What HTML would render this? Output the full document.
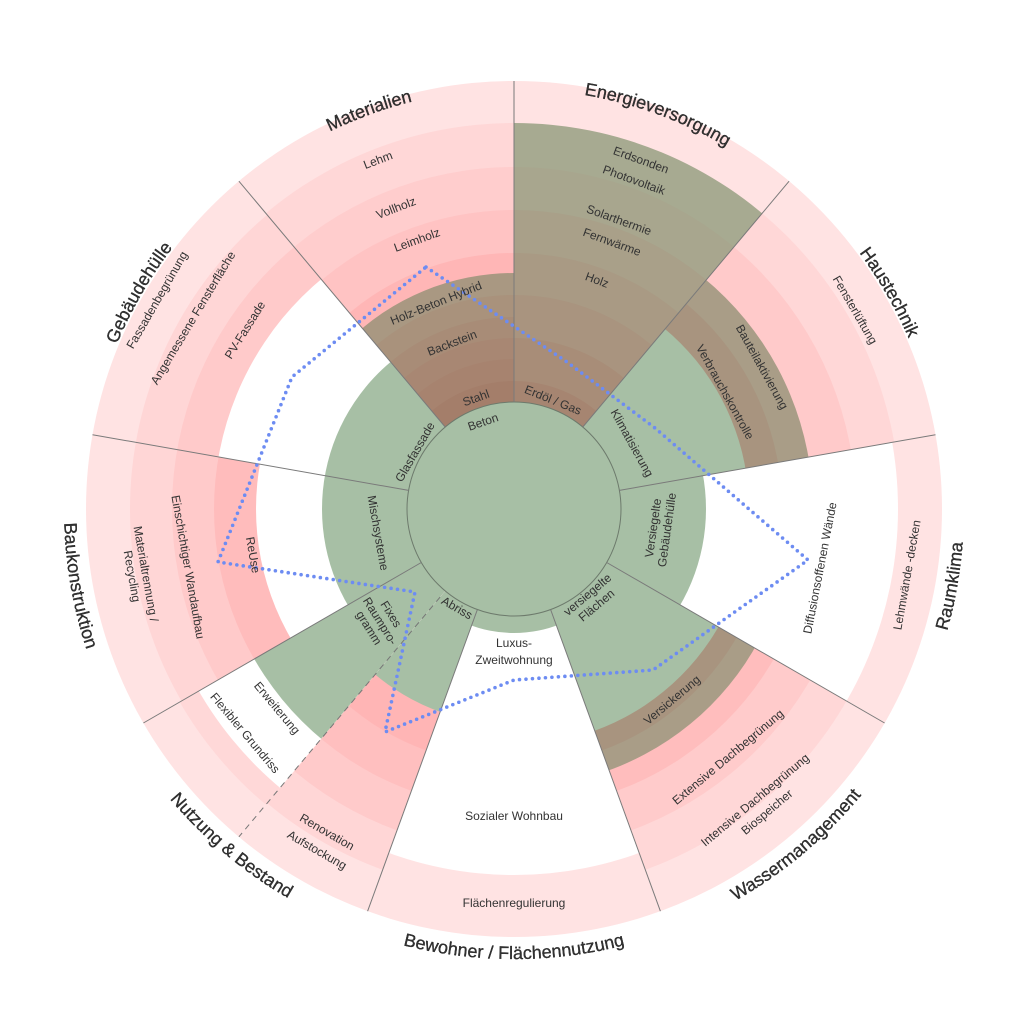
<!DOCTYPE html>
<html><head><meta charset="utf-8"><style>
html,body{margin:0;padding:0;background:#fff}
svg{display:block}
text{font-family:"Liberation Sans",sans-serif;fill:#333}
.l{font-size:12px}
.c{font-size:18px;fill:#000;stroke:#000;stroke-width:0.25}
</style></head><body>
<svg width="1024" height="1024" viewBox="0 0 1024 1024" xmlns="http://www.w3.org/2000/svg">
<defs>
<clipPath id="sMat"><polygon points="514,509 64,-27.2 514,-191"/></clipPath>
<clipPath id="sEne"><polygon points="514,509 514,-191 964,-27.2"/></clipPath>
<clipPath id="sHau"><polygon points="514,509 964,-27.2 1203.4,387.5"/></clipPath>
<clipPath id="sRau"><polygon points="514,509 1203.4,387.5 1120.2,859"/></clipPath>
<clipPath id="sWas"><polygon points="514,509 1120.2,859 753.4,1166.8"/></clipPath>
<clipPath id="sBew"><polygon points="514,509 753.4,1166.8 274.6,1166.8"/></clipPath>
<clipPath id="sNu1"><polygon points="514,509 274.6,1166.8 64,1045.2"/></clipPath>
<clipPath id="sNu2"><polygon points="514,509 64,1045.2 -92.2,859"/></clipPath>
<clipPath id="sBau"><polygon points="514,509 -92.2,859 -175.4,387.5"/></clipPath>
<clipPath id="sGeb"><polygon points="514,509 -175.4,387.5 64,-27.2"/></clipPath>
<path id="cMat" d="M169.9,268.1 A420,420 0 0 1 622.7,103.4"/>
<path id="cEne" d="M405.3,103.4 A420,420 0 0 1 858.1,268.1"/>
<path id="cHau" d="M695.8,119.4 A430,430 0 0 1 942.3,546.5"/>
<path id="cGeb" d="M85.7,546.5 A430,430 0 0 1 332.2,119.4"/>
<path id="cRau" d="M832.2,827.2 A450,450 0 0 0 921.8,318.8"/>
<path id="cWas" d="M553.2,957.3 A450,450 0 0 0 948.7,625.4"/>
<path id="cBew" d="M255.9,877.7 A450,450 0 0 0 772.1,877.7"/>
<path id="cNut" d="M79.3,625.4 A450,450 0 0 0 474.8,957.3"/>
<path id="cBau" d="M106.2,318.8 A450,450 0 0 0 195.8,827.2"/>
</defs>

<g clip-path="url(#sMat)">
<circle cx="514" cy="509" r="428" fill="#ffe3e3"/>
<circle cx="514" cy="509" r="386" fill="#ffd7d7"/>
<circle cx="514" cy="509" r="342" fill="#ffcdcd"/>
<circle cx="514" cy="509" r="299" fill="#ffc3c3"/>
<circle cx="514" cy="509" r="256" fill="#ffb6b6"/>
<circle cx="514" cy="509" r="236" fill="#a99882"/>
<circle cx="514" cy="509" r="214" fill="#a9927c"/>
<circle cx="514" cy="509" r="192" fill="#a88c77"/>
<circle cx="514" cy="509" r="171" fill="#a88773"/>
<circle cx="514" cy="509" r="150" fill="#a7836f"/>
<circle cx="514" cy="509" r="128" fill="#a47e6a"/>
</g>
<g clip-path="url(#sEne)">
<circle cx="514" cy="509" r="428" fill="#ffe3e3"/>
<circle cx="514" cy="509" r="386" fill="#a7aa91"/>
<circle cx="514" cy="509" r="342" fill="#a8a68e"/>
<circle cx="514" cy="509" r="299" fill="#a9a089"/>
<circle cx="514" cy="509" r="256" fill="#a99a84"/>
<circle cx="514" cy="509" r="214" fill="#a9947f"/>
<circle cx="514" cy="509" r="171" fill="#a88d78"/>
<circle cx="514" cy="509" r="128" fill="#a68571"/>
</g>
<g clip-path="url(#sHau)">
<circle cx="514" cy="509" r="428" fill="#ffe3e3"/>
<circle cx="514" cy="509" r="386" fill="#ffd7d7"/>
<circle cx="514" cy="509" r="342" fill="#ffcaca"/>
<circle cx="514" cy="509" r="299" fill="#a99d87"/>
<circle cx="514" cy="509" r="268" fill="#a8947f"/>
<circle cx="514" cy="509" r="235" fill="#a7bfa5"/>
</g>
<g clip-path="url(#sRau)">
<circle cx="514" cy="509" r="428" fill="#ffe3e3"/>
<circle cx="514" cy="509" r="384" fill="#ffffff"/>
<circle cx="514" cy="509" r="192" fill="#a7bfa5"/>
</g>
<g clip-path="url(#sWas)">
<circle cx="514" cy="509" r="428" fill="#ffe3e3"/>
<circle cx="514" cy="509" r="384" fill="#ffd7d7"/>
<circle cx="514" cy="509" r="342" fill="#ffcbcb"/>
<circle cx="514" cy="509" r="300" fill="#ffbdbd"/>
<circle cx="514" cy="509" r="278" fill="#a99d87"/>
<circle cx="514" cy="509" r="257" fill="#a8947f"/>
<circle cx="514" cy="509" r="236" fill="#a7bfa5"/>
</g>
<g clip-path="url(#sBew)">
<circle cx="514" cy="509" r="428" fill="#ffe3e3"/>
<circle cx="514" cy="509" r="366" fill="#ffffff"/>
<circle cx="514" cy="509" r="124" fill="#a7bfa5"/>
</g>
<g clip-path="url(#sNu1)">
<circle cx="514" cy="509" r="428" fill="#ffe3e3"/>
<circle cx="514" cy="509" r="384" fill="#ffd6d6"/>
<circle cx="514" cy="509" r="342" fill="#ffcaca"/>
<circle cx="514" cy="509" r="300" fill="#ffbfbf"/>
<circle cx="514" cy="509" r="257" fill="#ffb5b5"/>
<circle cx="514" cy="509" r="216" fill="#a7bfa5"/>
</g>
<g clip-path="url(#sNu2)">
<circle cx="514" cy="509" r="428" fill="#ffe3e3"/>
<circle cx="514" cy="509" r="386" fill="#ffd8d8"/>
<circle cx="514" cy="509" r="364" fill="#ffffff"/>
<circle cx="514" cy="509" r="300" fill="#a7bfa5"/>
</g>
<g clip-path="url(#sBau)">
<circle cx="514" cy="509" r="428" fill="#ffe3e3"/>
<circle cx="514" cy="509" r="384" fill="#ffd6d6"/>
<circle cx="514" cy="509" r="342" fill="#ffcaca"/>
<circle cx="514" cy="509" r="300" fill="#ffbcbc"/>
<circle cx="514" cy="509" r="258" fill="#ffffff"/>
<circle cx="514" cy="509" r="192" fill="#a7bfa5"/>
</g>
<g clip-path="url(#sGeb)">
<circle cx="514" cy="509" r="428" fill="#ffe3e3"/>
<circle cx="514" cy="509" r="384" fill="#ffd6d6"/>
<circle cx="514" cy="509" r="342" fill="#ffcaca"/>
<circle cx="514" cy="509" r="300" fill="#ffffff"/>
<circle cx="514" cy="509" r="192" fill="#a7bfa5"/>
</g>

<circle cx="514" cy="509" r="107" fill="#a7bfa5" stroke="#6d7a6c" stroke-width="1"/>

<g stroke="#7a7a7a" stroke-width="1">
<line x1="514" y1="402" x2="514" y2="81"/>
<line x1="582.8" y1="427" x2="789.1" y2="181.2"/>
<line x1="619.4" y1="490.4" x2="935.5" y2="434.7"/>
<line x1="606.7" y1="562.5" x2="884.6" y2="723"/>
<line x1="550.6" y1="609.5" x2="660.4" y2="911.2"/>
<line x1="477.4" y1="609.5" x2="367.6" y2="911.2"/>
<line x1="421.3" y1="562.5" x2="143.4" y2="723"/>
<line x1="408.6" y1="490.4" x2="92.5" y2="434.7"/>
<line x1="445.2" y1="427" x2="238.9" y2="181.2"/>
</g>
<line x1="440.1" y1="597.1" x2="238.9" y2="836.8" stroke="#777" stroke-width="1" stroke-dasharray="6 5"/>

<polygon points="426,267 567,362 655,428 808,560 653,670 514,680 385,732 415,592 218,562 292,377" fill="none" stroke="#6d8cf2" stroke-width="3.6" stroke-linecap="round" stroke-dasharray="0 6.5"/>

<g class="l" text-anchor="middle" dominant-baseline="central">
<text transform="translate(378,160) rotate(-21)">Lehm</text>
<text transform="translate(396,208) rotate(-21)">Vollholz</text>
<text transform="translate(417,240) rotate(-20)">Leimholz</text>
<text transform="translate(436,303) rotate(-22)">Holz-Beton Hybrid</text>
<text transform="translate(452,343) rotate(-21)">Backstein</text>
<text transform="translate(476,398) rotate(-20)">Stahl</text>
<text transform="translate(483,422) rotate(-19)">Beton</text>

<text transform="translate(641,160) rotate(20)">Erdsonden</text>
<text transform="translate(634,180) rotate(20)">Photovoltaik</text>
<text transform="translate(619,220) rotate(20)">Solarthermie</text>
<text transform="translate(612,242) rotate(20)">Fernwärme</text>
<text transform="translate(597,280) rotate(20)">Holz</text>
<text transform="translate(553,400) rotate(22)">Erdöl / Gas</text>

<text transform="translate(855,310) rotate(60)">Fensterlüftung</text>
<text transform="translate(762,367) rotate(61)">Bauteilaktivierung</text>
<text transform="translate(725,392) rotate(61)">Verbrauchskontrolle</text>
<text transform="translate(632,443) rotate(61)">Klimatisierung</text>

<text transform="translate(820,568) rotate(-79)">Diffusionsoffenen Wände</text>
<text transform="translate(907,575) rotate(-80)">Lehmwände -decken</text>
<text transform="translate(660,529) rotate(-82)"><tspan x="0" dy="-7">Versiegelte</tspan><tspan x="0" dy="14">Gebäudehülle</tspan></text>

<text transform="translate(672,700) rotate(-40)">Versickerung</text>
<text transform="translate(728,757) rotate(-40)">Extensive Dachbegrünung</text>
<text transform="translate(755,800) rotate(-40)">Intensive Dachbegrünung</text>
<text transform="translate(767,812) rotate(-40)">Biospeicher</text>
<text transform="translate(592,600) rotate(-40)"><tspan x="0" dy="-7">versiegelte</tspan><tspan x="0" dy="14">Flächen</tspan></text>

<text x="514" y="643">Luxus-</text>
<text x="514" y="660">Zweitwohnung</text>
<text x="514" y="816">Sozialer Wohnbau</text>
<text x="514" y="903">Flächenregulierung</text>

<text transform="translate(457,608) rotate(30)">Abriss</text>
<text transform="translate(380,621) rotate(58)"><tspan x="0" dy="-13">Fixes</tspan><tspan x="0" dy="13">Raumpro-</tspan><tspan x="0" dy="13">gramm</tspan></text>
<text transform="translate(277,708) rotate(50)">Erweiterung</text>
<text transform="translate(245,733) rotate(50)">Flexibler Grundriss</text>
<text transform="translate(327,832) rotate(30)">Renovation</text>
<text transform="translate(317,850) rotate(30)">Aufstockung</text>

<text transform="translate(378,533) rotate(80)">Mischsysteme</text>
<text transform="translate(253,555) rotate(80)">ReUse</text>
<text transform="translate(188,567) rotate(80)">Einschichtiger Wandaufbau</text>
<text transform="translate(139,575) rotate(80)"><tspan x="0" dy="-7">Materialtrennung /</tspan><tspan x="0" dy="14">Recycling</tspan></text>

<text transform="translate(415,452) rotate(-60)">Glasfassade</text>
<text transform="translate(245,330) rotate(-58)">PV-Fassade</text>
<text transform="translate(193,318) rotate(-59)">Angemessene Fensterfläche</text>
<text transform="translate(157,300) rotate(-60)">Fassadenbegrünung</text>
</g>

<g class="c" text-anchor="middle">
<text><textPath href="#cMat" startOffset="50%">Materialien</textPath></text>
<text><textPath href="#cEne" startOffset="50%">Energieversorgung</textPath></text>
<text><textPath href="#cHau" startOffset="50%">Haustechnik</textPath></text>
<text><textPath href="#cGeb" startOffset="50%">Gebäudehülle</textPath></text>
<text><textPath href="#cRau" startOffset="50%">Raumklima</textPath></text>
<text><textPath href="#cWas" startOffset="50%">Wassermanagement</textPath></text>
<text><textPath href="#cBew" startOffset="50%">Bewohner / Flächennutzung</textPath></text>
<text><textPath href="#cNut" startOffset="50%">Nutzung &amp; Bestand</textPath></text>
<text><textPath href="#cBau" startOffset="50%">Baukonstruktion</textPath></text>
</g>
</svg>
</body></html>
